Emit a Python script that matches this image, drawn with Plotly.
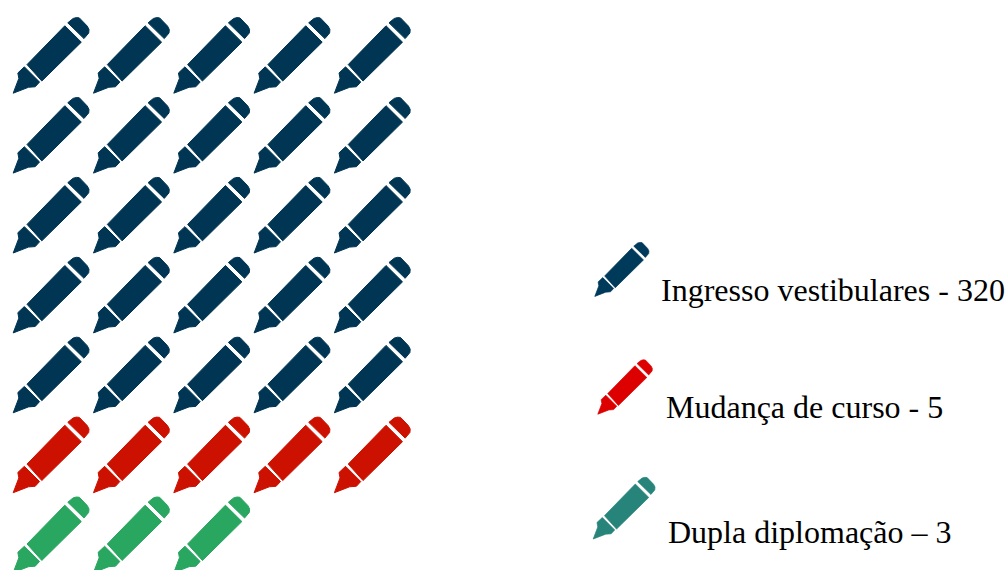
import plotly.graph_objects as go

# Enrolment routes and how many students came through each one
routes = ["Ingresso vestibulares", "Mudança de curso", "Dupla diplomação"]
students = [320, 5, 3]
separators = ["-", "-", "–"]

# The pictogram grid holds at most this many icons per route
MAX_ICONS = 25
COLUMNS = 5

grid_colors = ["#003553", "#CC1100", "#29A65F"]
key_colors = ["#003A5A", "#DD0000", "#26847A"]

# Grid layout, in page pixels
GRID_TIP_X, GRID_TIP_Y = 13.2, 93.2
GRID_SCALE = 0.987
STEP_X, STEP_Y = 80.3, 79.9

# Key layout: tip of each icon, icon scale, text anchor
key_tips = [(594.8, 296.4), (597.8, 414.2), (593.2, 539.0)]
key_scales = [0.705, 0.71, 0.805]
key_text = [(659, 290), (664, 407), (666, 532)]

# Pencil outline relative to its tip, split in cap, barrel and nib
PENCIL_PARTS = [
    [(55.3, -71.3), (60.7, -75.7), (64.0, -76.6), (67.0, -76.3), (75.0, -68.0),
     (76.8, -64.5), (76.5, -61.0), (71.7, -55.3)],
    [(52.3, -68.3), (69.0, -51.7), (29.0, -12.3), (14.0, -29.0)],
    [(11.3, -26.7), (26.7, -11.3), (22.3, -6.5), (18.5, -5.8), (15.5, -6.0),
     (0.0, 0.0), (5.7, -15.0), (4.7, -20.5)],
]


def pencil_outline(tip_x, tip_y, scale):
    xs, ys = [], []
    for part in PENCIL_PARTS:
        closed = part + part[:1]
        xs += [tip_x + px * scale for px, _ in closed] + [None]
        ys += [tip_y + py * scale for _, py in closed] + [None]
    return xs, ys


def filled_trace(xs, ys, color, edge):
    return go.Scatter(
        x=xs, y=ys, mode="lines", fill="toself", fillcolor=color,
        line=dict(width=edge, color=color), hoverinfo="skip", showlegend=False,
    )


fig = go.Figure()

# Icons fill the grid row by row, one colour block after another
slot = 0
for count, color in zip(students, grid_colors):
    xs, ys = [], []
    for _ in range(min(count, MAX_ICONS)):
        row, col = divmod(slot, COLUMNS)
        px, py = pencil_outline(GRID_TIP_X + col * STEP_X, GRID_TIP_Y + row * STEP_Y, GRID_SCALE)
        xs += px
        ys += py
        slot += 1
    fig.add_trace(filled_trace(xs, ys, color, 1.0))

# Key on the right: one larger icon and a caption per route
for route, count, sep, color, tip, scale, pos in zip(
    routes, students, separators, key_colors, key_tips, key_scales, key_text
):
    px, py = pencil_outline(tip[0], tip[1], scale)
    fig.add_trace(filled_trace(px, py, color, 0.7))
    fig.add_annotation(
        x=pos[0], y=pos[1], text=f"{route} {sep} {count}", showarrow=False,
        xanchor="left", yanchor="middle", xref="x", yref="y",
        font=dict(family="Liberation Serif", size=32, color="#000000"),
    )

fig.update_layout(
    width=1005, height=570, margin=dict(l=0, r=0, t=0, b=0),
    paper_bgcolor="#FFFFFF", plot_bgcolor="#FFFFFF",
    xaxis=dict(range=[0, 1005], visible=False, fixedrange=True),
    yaxis=dict(range=[570, 0], visible=False, fixedrange=True),
)

fig.write_html("out.html", config=dict(displayModeBar=False))
